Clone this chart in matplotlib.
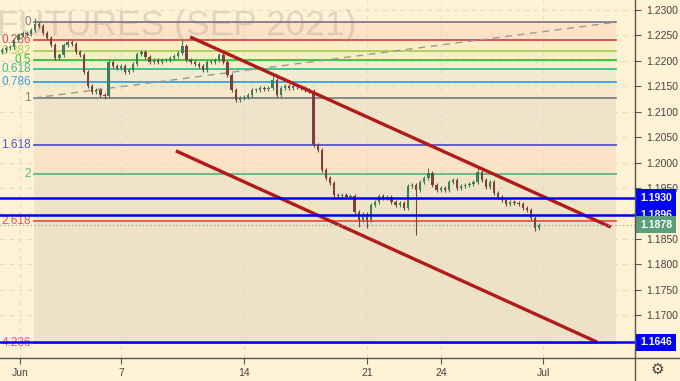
import matplotlib.pyplot as plt
from matplotlib.lines import Line2D

plt.rcParams['font.family'] = ['Liberation Sans', 'DejaVu Sans']

# 4h closes (first bar ~May 31)
closes = [1.2221, 1.2225, 1.2227, 1.2241, 1.2251, 1.2255, 1.2253, 1.2261, 1.2272, 1.2269,
          1.2255, 1.2245, 1.2231, 1.2206, 1.2212, 1.2231, 1.2237, 1.2233, 1.2217, 1.2212,
          1.2178, 1.2151, 1.2139, 1.2143, 1.2133, 1.2131, 1.2198, 1.2190, 1.2186, 1.2190,
          1.2178, 1.2182, 1.2194, 1.2213, 1.2217, 1.2208, 1.2198, 1.2202, 1.2198, 1.2202,
          1.2202, 1.2206, 1.2210, 1.2216, 1.2229, 1.2202, 1.2198, 1.2194, 1.2190, 1.2182,
          1.2198, 1.2198, 1.2202, 1.2212, 1.2198, 1.2172, 1.2143, 1.2123, 1.2127, 1.2129,
          1.2133, 1.2143, 1.2143, 1.2147, 1.2145, 1.2147, 1.2162, 1.2133, 1.2147, 1.2151,
          1.2147, 1.2151, 1.2149, 1.2147, 1.2143, 1.2141, 1.2034, 1.2025, 1.1985, 1.1970,
          1.1960, 1.1936, 1.1934, 1.1936, 1.1932, 1.1934, 1.1903, 1.1887, 1.1899, 1.1887,
          1.1917, 1.1922, 1.1934, 1.1930, 1.1932, 1.1922, 1.1917, 1.1920, 1.1911, 1.1954,
          1.1956, 1.1946, 1.1962, 1.1970, 1.1979, 1.1956, 1.1946, 1.1950, 1.1946, 1.1962,
          1.1966, 1.1950, 1.1954, 1.1956, 1.1958, 1.1962, 1.1981, 1.1966, 1.1952, 1.1962,
          1.1940, 1.1932, 1.1926, 1.1919, 1.1922, 1.1920, 1.1919, 1.1911, 1.1907, 1.1891,
          1.1871, 1.1878]
first_open = 1.2218

# bars with long wicks
spike_highs = {8: 1.2284, 44: 1.2241, 66: 1.2170, 104: 1.1989, 116: 1.1993}
spike_lows = {25: 1.2125, 57: 1.2119, 87: 1.1874, 89: 1.1871, 101: 1.1857, 130: 1.1865}

# date ticks (bar positions)
date_pos = [4.4, 29.0, 59.0, 89.0, 107.1, 132.0]
date_labels = ['Jun', '7', '14', '21', '24', 'Jul']

# price ticks (1.1900 is hidden behind the level boxes)
price_ticks = [1.17 + 0.005 * k for k in range(13)]
price_labels = ['' if abs(p - 1.19) < 1e-6 else f'{p:.4f}' for p in price_ticks]

# fibonacci retracement
fib_top = 1.2276
fib_bottom = 1.2127
fib_start, fib_end = 7.8, 149.7
fib_levels = [0, 0.236, 0.382, 0.5, 0.618, 0.786, 1, 1.618, 2, 2.618, 4.236]
fib_labels = ['0', '0.236', '0.382', '0.5', '0.618', '0.786', '1', '1.618', '2', '2.618', '4.236']
fib_colors = ['#7d7f88', '#e04848', '#a9cf4c', '#33c233', '#3cbf8f', '#3a9ee0',
              '#7d7f88', '#5555cc', '#55bb88', '#e05555', '#e050a0']
zone_colors = ['#fde2c6', '#fbeec6', '#f5efc6', '#f1efcc', '#efecd2', '#f8e9c8',
               '#efe4ca', '#fde3c6', '#efe5c6', '#ede2c6']

# channel lines (bar, price)
upper_channel = ([45.9, 148.5], [1.2247, 1.1873])
lower_channel = ([42.4, 145.1], [1.2023, 1.1647])

blue_levels = [1.1930, 1.1896, 1.1646]
last_price = 1.1878

bg = '#fff2d5'
fig = plt.figure(figsize=(6.8, 3.81), dpi=100, facecolor=bg)
ax = fig.add_axes([0, 23 / 381, 635 / 680, 358 / 381])
ax.set_facecolor(bg)
ax.set_xlim(-0.49, 154.4)
ax.set_ylim(1.16155, 1.23197)

# grid
for p in price_ticks:
    ax.axhline(p, color='#e2dccd', lw=0.8, ls=(0, (4, 4)), zorder=0.5)
for d in date_pos:
    ax.axvline(d, color='#e2dccd', lw=0.8, ls=(0, (4, 4)), zorder=0.5)

# fib zones + levels
prices = [fib_top - lv * (fib_top - fib_bottom) for lv in fib_levels]
for k in range(len(prices) - 1):
    ax.fill_between([fib_start, fib_end], prices[k + 1], prices[k],
                    color=zone_colors[k], lw=0, zorder=0.3)
for p, lab, col in zip(prices, fib_labels, fib_colors):
    ax.plot([fib_start, fib_end], [p, p], color=col, lw=1.3, zorder=1)
    ax.text(fib_start - 0.7, p, lab, color=col, fontsize=8.5, ha='right', va='center', zorder=1)
ax.plot([fib_start, fib_end], [fib_bottom, fib_top], color='#9a9a9a', lw=1,
        ls=(0, (5, 4)), zorder=1)

# watermark
fig.text(-3 / 680, 1 - 35 / 381, 'FUTURES (SEP 2021)', fontsize=25.5,
         color='#787878', alpha=0.22, va='baseline', ha='left', zorder=0.6)

# candles
opens = [first_open] + closes[:-1]
for i, (o, c) in enumerate(zip(opens, closes)):
    hi = spike_highs.get(i, max(o, c) + 0.0004)
    lo = spike_lows.get(i, min(o, c) - 0.0004)
    col = '#3f7d5c' if c >= o else '#7d4040'
    ax.vlines(i, lo, hi, color=col, lw=0.8, zorder=3)
    ax.bar(i, max(abs(c - o), 0.00012), bottom=min(o, c), width=0.55, color=col, lw=0, zorder=3)

# channel
ax.plot(*upper_channel, color='#b21a1a', lw=2.4, solid_capstyle='butt', zorder=4)
ax.plot(*lower_channel, color='#b21a1a', lw=2.4, solid_capstyle='butt', zorder=4)

# horizontal levels
for p in blue_levels:
    ax.axhline(p, color='#0000ff', lw=1.8, zorder=5)
    ax.annotate(f'{p:.4f}', xy=(1 + 21 / 635, p), xycoords=('axes fraction', 'data'),
                ha='center', va='center', fontsize=7.5, fontweight='bold', color='white',
                annotation_clip=False, zorder=10,
                bbox=dict(boxstyle='square,pad=0.35', fc='#0000ff', ec='none'))
ax.axhline(last_price, color='#8aa88a', lw=0.9, ls=(0, (1, 2)), zorder=5)
ax.annotate(f'{last_price:.4f}', xy=(1 + 21 / 635, last_price), xycoords=('axes fraction', 'data'),
            ha='center', va='center', fontsize=7.5, fontweight='bold', color='white',
            annotation_clip=False, zorder=10,
            bbox=dict(boxstyle='square,pad=0.35', fc='#5a9e7c', ec='none'))

# axes
for s in ax.spines.values():
    s.set_visible(False)
ax.yaxis.tick_right()
ax.set_yticks(price_ticks)
ax.set_yticklabels(price_labels)
ax.tick_params(axis='y', length=4, width=0.8, color='#555555', pad=4, labelsize=7.5,
               labelcolor='#444444')
ax.set_xticks(date_pos)
ax.set_xticklabels(date_labels)
ax.tick_params(axis='x', length=4, width=0.8, color='#555555', pad=3, labelsize=7.5,
               labelcolor='#444444')

fig.add_artist(Line2D([635 / 680, 635 / 680], [0, 1], color='#555555', lw=1))
fig.add_artist(Line2D([0, 1], [23 / 381, 23 / 381], color='#555555', lw=1))
fig.text(657 / 680, 12 / 381, '\u2699', fontsize=11, family='DejaVu Sans', color='#444444',
         ha='center', va='center')

fig.savefig('out.png', dpi=100, facecolor=bg)
